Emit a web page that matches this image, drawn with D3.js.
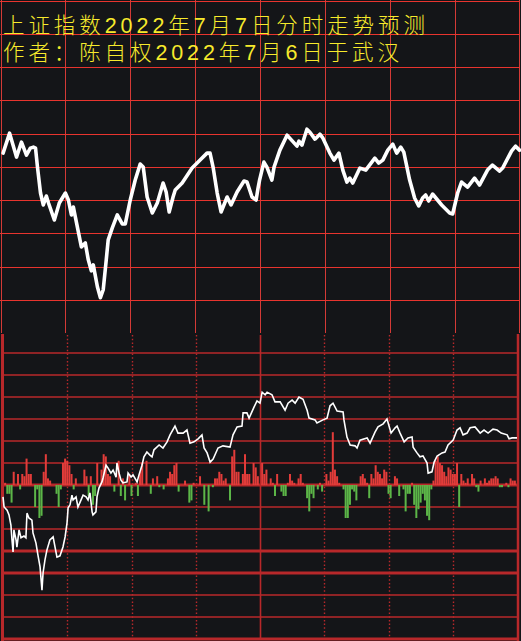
<!DOCTYPE html>
<html><head><meta charset="utf-8">
<script src="https://cdn.jsdelivr.net/npm/d3@7"></script>
<style>html,body{margin:0;padding:0;background:#141518;overflow:hidden;}</style>
</head><body>
<svg id="c" width="521" height="641"></svg>
<script>
const titleLines = ["上证指数2022年7月7日分时走势预测", "作者：陈自权2022年7月6日于武汉"];
const gridMinutes = [0, 30, 60, 90, 120, 150, 180, 210, 240];
const topGridValues = [3340, 3350, 3360, 3370, 3380, 3390, 3400, 3410, 3420, 3430];
const lowGridPct = [3.0, 2.5, 2.0, 1.5, 1.0, 0.5, 0, -0.5, -1.0, -1.5, -2.0, -2.5, -3.0, -3.5];
const lowThickPct = [0, -1.5, -2.0, -3.5];

const topTimes = [1.2,4.2,7.4,9.7,12.0,13.8,15.2,16.2,17.1,18.5,19.8,21.2,22.2,24.9,27.2,30.0,31.4,32.8,33.7,34.6,37.4,39.2,40.6,42.0,42.9,44.8,46.2,47.5,48.9,49.8,51.7,54.0,56.3,57.7,60.0,62.3,64.6,66.0,67.8,70.2,72.5,75.2,76.6,78.0,79.8,80.8,84.0,88.6,92.3,95.5,96.9,98.3,100.2,102.0,104.8,106.6,109.4,112.6,114.0,116.3,118.2,119.1,119.8,121.8,123.2,125.5,126.5,129.2,132.5,137.1,138.0,139.4,141.7,143.1,145.4,147.7,149.1,152.3,154.2,156.5,158.3,160.2,161.5,162.9,166.2,168.9,173.1,174.9,176.8,179.1,181.4,183.2,185.1,186.5,189.2,191.5,193.4,195.2,196.6,198.0,199.8,204.0,207.7,209.1,211.4,213.2,216.0,219.2,221.5,225.2,227.5,230.8,232.2,236.3,238.2,240.0];
const topValues = [3384.1,3390.1,3382.9,3387.4,3383.5,3385.6,3385.9,3385.6,3379.9,3372.1,3368.5,3371.2,3369.1,3364.0,3369.1,3372.1,3370.0,3365.5,3367.9,3364.9,3355.9,3357.1,3352.0,3348.7,3350.5,3343.9,3340.6,3343.0,3352.0,3358.0,3361.6,3365.5,3362.8,3362.8,3370.0,3376.0,3380.8,3379.9,3370.9,3366.1,3369.1,3375.1,3372.4,3366.4,3370.9,3373.0,3375.1,3379.6,3382.0,3384.1,3384.1,3379.9,3372.1,3366.4,3370.9,3368.5,3372.4,3375.7,3375.4,3370.9,3370.0,3373.6,3376.0,3381.4,3379.9,3376.0,3379.9,3385.0,3389.5,3386.2,3387.7,3386.5,3391.3,3390.4,3388.3,3389.8,3388.6,3384.1,3382.0,3384.1,3379.0,3375.4,3376.6,3375.1,3379.6,3379.0,3382.6,3381.1,3382.0,3385.0,3386.8,3384.1,3385.9,3384.4,3376.0,3370.6,3368.2,3370.6,3371.5,3369.7,3371.8,3368.5,3366.1,3365.8,3372.1,3375.4,3373.9,3376.6,3374.5,3379.0,3380.5,3378.7,3379.6,3384.7,3386.2,3385.0];

const lowTimes = [0,0.5,1.9,2.8,3.7,4.2,4.7,5.1,6.1,6.5,7.5,8.4,9.8,10.7,11.2,12.1,13.5,14.0,15.4,16.3,17.3,18.2,18.7,19.6,20.5,21.9,23.4,24.3,25.2,26.6,28.0,29.0,29.9,30.4,31.3,32.2,32.7,34.1,35.0,36.0,37.4,38.8,39.7,40.6,41.6,42.0,43.4,43.9,44.8,46.2,46.7,48.1,49.0,50.4,51.4,52.8,53.2,54.2,55.1,56.0,57.9,58.4,59.8,60.7,62.6,63.5,64.9,65.8,67.2,68.6,69.6,70.5,72.9,74.7,76.6,78.0,80.3,81.7,84.1,85.9,87.3,89.2,91.1,92.9,93.9,95.3,96.7,98.1,100.4,102.7,106.0,107.4,109.3,111.6,112.1,113.9,114.9,117.2,118.6,120.0,121.0,122.4,123.3,125.6,127.0,129.4,131.7,133.1,135.0,136.4,138.2,140.1,142.0,142.9,145.7,146.6,149.4,151.3,152.7,154.1,156.0,158.8,159.2,160.6,162.1,164.4,165.3,166.7,170.0,171.4,173.7,175.1,177.5,179.3,181.2,183.1,184.0,185.4,187.3,189.1,191.0,191.5,193.3,194.7,196.1,198.0,198.5,200.3,201.3,202.7,205.0,206.4,207.8,210.2,212.0,213.4,214.8,216.7,218.1,220.4,222.8,224.6,226.5,228.8,230.7,232.6,235.4,236.3,237.7,240.0];
const lowPct = [-0.27,-0.50,-0.57,-0.68,-0.91,-1.25,-1.52,-1.02,-1.25,-1.41,-1.02,-1.20,-1.16,-1.20,-0.64,-0.75,-0.80,-1.09,-1.32,-1.59,-1.86,-2.39,-2.00,-1.70,-1.48,-1.25,-1.18,-1.41,-1.64,-1.61,-1.41,-1.18,-0.86,-0.52,-0.45,-0.23,-0.34,-0.27,-0.50,-0.39,-0.23,-0.27,-0.34,-0.18,-0.61,-0.68,-0.61,-0.27,-0.07,0.07,0.16,0.45,0.39,0.27,0.34,0.18,0.50,0.27,0.11,0.05,0.07,0.27,0.18,0.23,0.07,0.23,0.45,0.64,0.75,0.68,0.64,0.80,0.91,0.84,0.98,1.14,1.34,1.18,1.18,1.25,0.95,0.98,1.05,1.14,0.84,0.73,0.52,0.59,0.84,0.89,0.86,1.14,1.32,1.34,1.64,1.64,1.52,1.77,1.91,1.86,2.11,2.05,2.11,2.05,1.89,1.89,1.70,1.86,1.93,1.86,2.00,1.95,1.70,1.52,1.48,1.41,1.48,1.52,1.80,1.86,1.68,1.66,1.48,1.09,0.91,0.89,0.84,1.02,1.07,0.95,1.20,1.32,1.39,1.50,1.18,1.30,1.34,1.18,0.98,1.07,1.09,0.86,0.73,0.64,0.66,0.50,0.27,0.30,0.52,0.66,0.73,0.75,0.91,1.02,1.25,1.30,1.14,1.18,1.30,1.32,1.18,1.25,1.18,1.27,1.25,1.18,1.14,1.05,1.07,1.07];

const barTimes = [1,2,3,4,5,7,8,9,10,11,12,13,15,16,17,18,19,20,21,22,25,26,27,28,29,30,31,32,33,34,38,39,40,41,42,43,44,46,47,48,49,50,52,54,55,56,57,59,60,62,63,64,65,67,69,70,72,73,75,77,78,79,80,81,82,85,87,88,89,92,94,96,98,99,100,101,102,103,104,106,107,108,109,110,112,113,114,115,117,118,119,121,122,123,125,126,127,128,130,131,132,133,134,135,136,138,139,140,142,143,144,145,147,148,149,151,152,153,154,155,156,157,159,160,161,162,163,164,165,167,168,169,170,171,172,173,174,175,176,177,178,179,180,181,183,184,185,187,188,189,190,191,192,193,194,195,196,197,198,199,200,201,202,203,204,205,206,207,208,209,210,211,212,213,214,215,216,217,219,220,221,222,223,225,226,227,228,229,230,231,232,233,235,236,237,238,239];
const barValues = [1,-4,-4,-8,6,5,-2,5,4,12,5,5,-10,-2,-15,-14,6,14,3,2,-4,-10,-2,10,12,11,9,5,-2,3,7,4,-5,4,-9,-5,10,7,14,13,5,4,-3,11,-5,3,-7,5,-5,1,-5,6,10,11,-4,3,4,-1,-2,3,6,5,9,10,-3,2,-8,-7,1,4,-9,-12,-1,3,3,6,5,2,3,-7,13,16,6,6,5,14,5,5,10,8,4,10,5,7,3,1,-5,5,-3,-5,-5,1,5,2,1,3,5,1,-6,-12,-4,-6,-2,1,-3,5,2,6,24,7,4,1,-2,-15,-15,-9,-2,-3,-7,4,5,3,1,-6,5,3,9,6,5,3,7,6,-4,-6,4,3,-5,-2,-12,-4,-4,1,-9,-15,-11,-8,-4,-7,-14,-16,-2,2,11,13,10,9,6,4,8,7,5,5,10,-10,5,2,1,3,5,3,-1,-3,2,3,1,2,3,3,4,3,-1,-1,1,-1,3,2,2];

const svg = d3.select("#c");
const W = 521, H = 641;
svg.append("rect").attr("width", W).attr("height", H).attr("fill", "#141518");

// ---------- top panel ----------
const xTop = d3.scaleLinear().domain([0, 240]).range([0.5, 519.5]);
const yTop = d3.scaleLinear().domain([3330, 3430]).range([333, 0.5]);
const gTop = svg.append("g");
gTop.selectAll("line.v").data(gridMinutes).join("line")
  .attr("x1", d => Math.round(xTop(d)) + (d === 240 ? -0.5 : 0.5)).attr("x2", d => Math.round(xTop(d)) + (d === 240 ? -0.5 : 0.5))
  .attr("y1", 0).attr("y2", 333)
  .attr("stroke", "#d43a36").attr("stroke-width", 1);
gTop.selectAll("line.h").data(topGridValues).join("line")
  .attr("x1", 0).attr("x2", 520)
  .attr("y1", d => Math.round(yTop(d)) + 0.5).attr("y2", d => Math.round(yTop(d)) + 0.5)
  .attr("stroke", "#e8342e").attr("stroke-width", 1.2);

const topData = topTimes.map((t, i) => [t, topValues[i]]);
gTop.append("path").datum(topData)
  .attr("fill", "none").attr("stroke", "#ffffff").attr("stroke-width", 3.6)
  .attr("stroke-linejoin", "round").attr("stroke-linecap", "round")
  .attr("d", d3.line().x(d => xTop(d[0])).y(d => yTop(d[1])));

// ---------- bottom panel ----------
const xLow = d3.scaleLinear().domain([0, 240]).range([3, 517]);
const yLow = d3.scaleLinear().domain([-3.5, 3.5]).range([639, 331]);
const yBar = d3.scaleLinear().domain([-10, 10]).range([507, 463]);
const gLow = svg.append("g");
const lowRed = "#b8282a";

gLow.selectAll("line.h").data(lowGridPct).join("line")
  .attr("x1", 3).attr("x2", 517)
  .attr("y1", d => Math.round(yLow(d))).attr("y2", d => Math.round(yLow(d)))
  .attr("stroke", lowRed).attr("stroke-width", d => lowThickPct.includes(d) ? 3 : 1.3);

gLow.selectAll("line.v").data(gridMinutes.filter(m => m > 0 && m < 240)).join("line")
  .attr("x1", d => Math.round(xLow(d)) + 0.5).attr("x2", d => Math.round(xLow(d)) + 0.5)
  .attr("y1", 335).attr("y2", 638)
  .attr("stroke", lowRed).attr("stroke-width", d => d === 120 ? 1.6 : 1.4)
  .attr("stroke-dasharray", d => d === 120 ? null : "1.5,2.2");

// borders
gLow.append("line").attr("x1", 2.5).attr("x2", 2.5).attr("y1", 334).attr("y2", 641)
  .attr("stroke", lowRed).attr("stroke-width", 3);
gLow.append("line").attr("x1", 518).attr("x2", 518).attr("y1", 334).attr("y2", 641)
  .attr("stroke", lowRed).attr("stroke-width", 2.5);

// bars
const bars = barTimes.map((t, i) => ({t, v: barValues[i]}));
gLow.selectAll("rect.bar").data(bars).join("rect")
  .attr("x", d => xLow(d.t) - 1)
  .attr("width", 2)
  .attr("y", d => d.v >= 0 ? yBar(d.v) : yBar(0))
  .attr("height", d => Math.abs(yBar(d.v) - yBar(0)))
  .attr("fill", d => d.v >= 0 ? "#e23c3a" : "#5cb648");

const lowData = lowTimes.map((t, i) => [t, lowPct[i]]);
gLow.append("path").datum(lowData)
  .attr("fill", "none").attr("stroke", "#ffffff").attr("stroke-width", 1.6)
  .attr("stroke-linejoin", "miter")
  .attr("d", d3.line().x(d => xLow(d[0])).y(d => yLow(d[1])));

// ---------- title ----------
const titleY = [33, 60];
const titleLen = [422, 396];
svg.selectAll("text.title").data(titleLines).join("text")
  .attr("class", "title")
  .attr("x", 3).attr("y", (d, i) => titleY[i])
  .attr("textLength", (d, i) => titleLen[i]).attr("lengthAdjust", "spacing")
  .attr("font-family", "'DejaVu Sans ExtraLight', 'Liberation Sans', 'Noto Sans CJK SC', sans-serif")
  .attr("font-size", 21.5).attr("font-weight", 300)
  .attr("fill", "#f7ea2c")
  .text(d => d);
</script>
</body></html>
